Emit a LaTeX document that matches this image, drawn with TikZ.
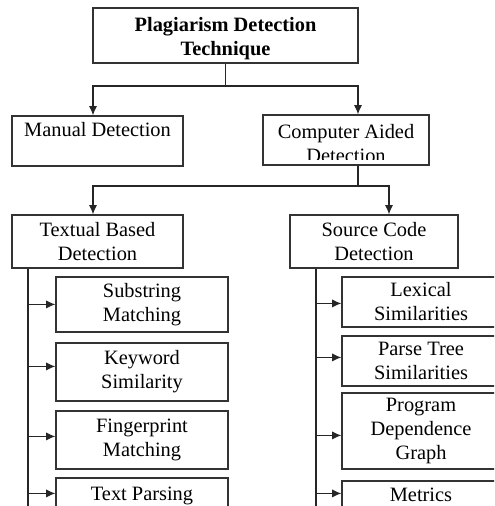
\documentclass[tikz,border=0pt]{standalone}
\usepackage{fontspec}
\setmainfont{Liberation Serif}
\usetikzlibrary{arrows.meta,calc}
\newcommand{\pxu}{0.03cm}
\tikzset{
  blk/.style={rectangle,align=center,inner sep=0pt,font=\fontsize{17.4}{20.5}\selectfont},
  bx/.style 2 args={blk,draw=black!80,line width=1pt,minimum width=#1*\pxu,minimum height=#2*\pxu},
  link/.style={draw=black!85,line width=1pt},
}
\begin{document}
\begin{tikzpicture}[x=0.03cm,y=-0.03cm,>={Latex[length=8pt,width=7pt]}]
\clip (0,0) rectangle (494,506);
% top levels
\node[bx={265}{55}] (plag) at (225.5,35.5) {};
\node[blk,font=\fontsize{17.4}{20.5}\selectfont\bfseries] (plaglbl) at (225.5,39) {Plagiarism Detection\\Technique};
\node[bx={171}{50}] (manual) at (97.5,141) {Manual Detection\\\mbox{}};
\node[bx={166}{50}] (cad) at (346,140) {};
\begin{scope}
  \clip (cad.north west) rectangle ([yshift=5pt]cad.south east);
  \node[blk] (cadlbl) at (346,144) {Computer Aided\\Detection};
\end{scope}
\node[bx={171}{53}] (tbd) at (97.5,241.5) {Textual Based\\Detection};
\node[bx={168}{53}] (scd) at (374,241.5) {Source Code\\Detection};
% textual based
\foreach \nm/\yc/\h/\txt in {sub/304.5/55/{Substring\\Matching},key/372/58/{Keyword\\Similarity},fin/440/58/{Fingerprint\\Matching},tp/506/56/{Text Parsing\\\mbox{}}}
  \node[bx={172}{\h}] (\nm) at (142,\yc) {\txt};
% source code
\foreach \nm/\yc/\h/\txt in {lex/302/50/{Lexical\\Similarities},parse/361/50/{Parse Tree\\Similarities},pdg/431/76/{Program\\Dependence\\Graph},met/507/52/{Metrics\\\mbox{}}}
  \node[bx={158}{\h}] (\nm) at (421,\yc) {\txt};
% connectors
\coordinate (s1) at (93,86);
\coordinate (s2) at (358,86);
\draw[link,->] (plag.south) |- (s1) -- (s1 |- manual.north);
\draw[link,->] (plag.south |- s2) -- (s2) -- (s2 |- cad.north);
\coordinate (t1) at (93,186);
\coordinate (t2) at (389,186);
\draw[link,->] (s2 |- cad.south) |- (t1) -- (t1 |- tbd.north);
\draw[link,->] (s2 |- t2) -- (t2) -- (t2 |- scd.north);
\coordinate (lb) at (28,520);
\coordinate (rb) at (316,520);
\draw[link] (lb |- tbd.south) -- (lb);
\draw[link] (rb |- scd.south) -- (rb);
\foreach \nm/\dy in {sub/28,key/24,fin/26,tp/16} {
  \coordinate (a\nm) at ($(\nm.north west)+(0,\dy)$);
  \draw[link,->] (lb |- a\nm) -- (a\nm);
}
\foreach \nm/\dy in {lex/27,parse/22,pdg/43,met/13} {
  \coordinate (a\nm) at ($(\nm.north west)+(0,\dy)$);
  \draw[link,->] (rb |- a\nm) -- (a\nm);
}
\end{tikzpicture}
\end{document}
